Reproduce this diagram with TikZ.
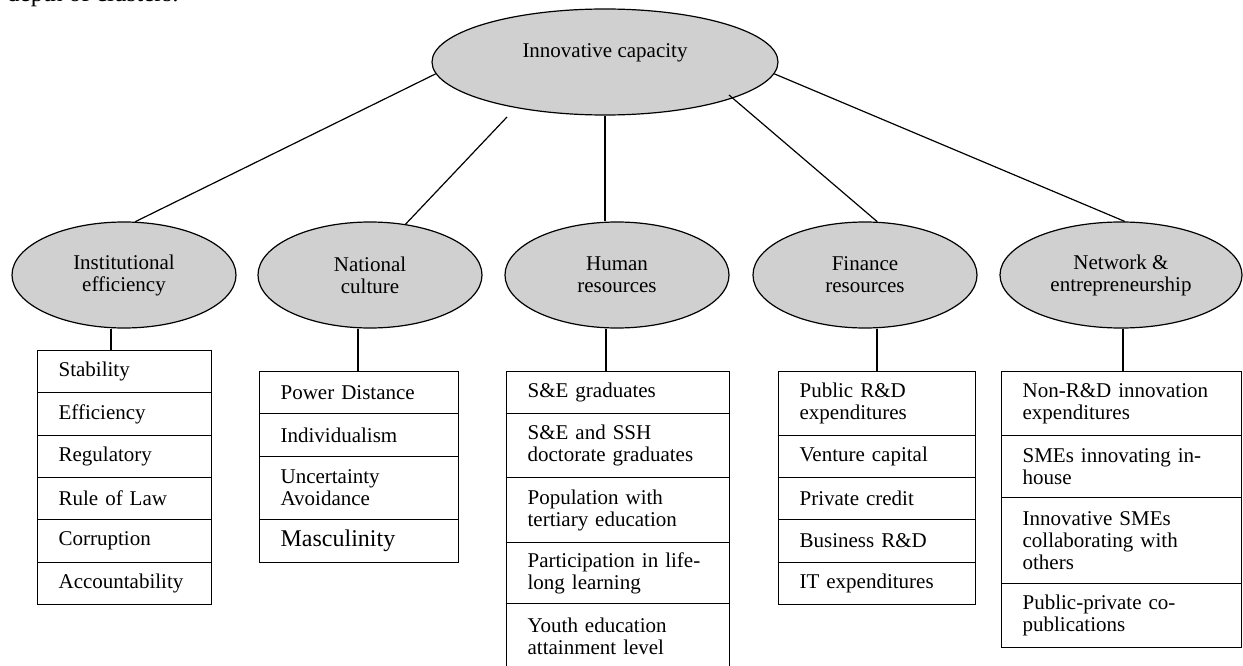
\documentclass[tikz,border=0pt]{standalone}
\usepackage{fontspec}
\setmainfont{Liberation Serif}
\usetikzlibrary{shapes.geometric}
\definecolor{ovalfill}{RGB}{208,208,208}
\tikzset{
  base/.style={line width=1.2pt, draw=black},
  oval/.style={base, ellipse, fill=ovalfill, inner sep=0pt, align=center,
    minimum height=106pt, font=\fontsize{21}{22}\selectfont},
  cell/.style={base, rectangle, anchor=north west, inner xsep=21pt, inner ysep=0pt,
    align=left, font=\fontsize{21}{22}\selectfont},
  colA/.style={cell, text width=132pt},
  colB/.style={cell, text width=157pt},
  colC/.style={cell, text width=181pt},
  colD/.style={cell, text width=155pt},
  colE/.style={cell, text width=198pt},
  link/.style={line width=1.2pt}
}
\begin{document}
\begin{tikzpicture}[x=1pt, y=-1pt]
\useasboundingbox (0,0) rectangle (1243,666);

% running text above the figure
\node[anchor=base west, inner sep=0pt, font=\fontsize{25}{28}\selectfont] (runin) at (7,2) {depth of clusters.};

% top concept
\node[oval, minimum width=346pt] (ci) at (605,62) {\raisebox{9pt}[\height][\depth]{Innovative capacity}};

% the five dimensions
\node[oval, minimum width=224pt] (ie) at (124,275) {Institutional\\efficiency};
\node[oval, minimum width=224pt] (nc) at (370,275) {National\\culture};
\node[oval, minimum width=224pt] (hr) at (617,275) {Human\\resources};
\node[oval, minimum width=224pt] (fr) at (865,275) {Finance\\resources};
\node[oval, minimum width=242pt] (ne) at (1121,275) {Network \&\\entrepreneurship};

% branches from the top concept
\coordinate (g2) at (507,117);
\coordinate (g4) at (729,95);
\draw[link] (ci.184) -- (ie.78);
\draw[link] (g2) -- (nc.55);
\draw[link] (ci.south) -- (ci.south |- hr.north);
\draw[link] (g4) -- (fr.77);
\draw[link] (ci.356) -- (ne.86);

% indicator lists
\node[colA, minimum height=42pt] (a1) at (37,350) {Stability};
\node[colA, minimum height=43pt] (a2) at (37,392) {Efficiency};
\node[colA, minimum height=42pt] (a3) at (37,435) {Regulatory};
\node[colA, minimum height=42pt] (a4) at (37,477) {Rule of Law};
\node[colA, minimum height=43pt] (a5) at (37,519) {Corruption};
\node[colA, minimum height=42pt] (a6) at (37,562) {Accountability};

\node[colB, minimum height=42pt] (b1) at (259,371) {Power Distance};
\node[colB, minimum height=43pt] (b2) at (259,413) {Individualism};
\node[colB, minimum height=63pt] (b3) at (259,456) {Uncertainty\\Avoidance};
\node[colB, minimum height=43pt, font=\fontsize{24}{26}\selectfont] (b4) at (259,519) {Masculinity};

\node[colC, minimum height=42pt] (c1) at (506,371) {S\&E graduates};
\node[colC, minimum height=64pt] (c2) at (506,413) {S\&E and SSH\\doctorate graduates};
\node[colC, minimum height=65pt] (c3) at (506,477) {Population with\\tertiary education};
\node[colC, minimum height=61pt] (c4) at (506,542) {Participation in life-\\long learning};
\node[colC, minimum height=65pt] (c5) at (506,603) {Youth education\\attainment level};

\node[colD, minimum height=64pt] (d1) at (778,371) {Public R\&D\\expenditures};
\node[colD, minimum height=42pt] (d2) at (778,435) {Venture capital};
\node[colD, minimum height=42pt] (d3) at (778,477) {Private credit};
\node[colD, minimum height=43pt] (d4) at (778,519) {Business R\&D};
\node[colD, minimum height=42pt] (d5) at (778,562) {IT expenditures};

\node[colE, minimum height=64pt] (e1) at (1001,371) {Non-R\&D innovation\\expenditures};
\node[colE, minimum height=62pt] (e2) at (1001,435) {SMEs innovating in-\\house};
\node[colE, minimum height=86pt] (e3) at (1001,497) {Innovative SMEs\\collaborating with\\others};
\node[colE, minimum height=64pt] (e4) at (1001,583) {Public-private co-\\publications};

% dimension to list
\draw[link] ([xshift=-13pt]ie.south) -- ([xshift=-13pt]ie.south |- a1.north);
\draw[link] ([xshift=-12pt]nc.south) -- ([xshift=-12pt]nc.south |- b1.north);
\draw[link] ([xshift=-11pt]hr.south) -- ([xshift=-11pt]hr.south |- c1.north);
\draw[link] ([xshift=12pt]fr.south) -- ([xshift=12pt]fr.south |- d1.north);
\draw[link] ([xshift=2pt]ne.south) -- ([xshift=2pt]ne.south |- e1.north);
\end{tikzpicture}
\end{document}
